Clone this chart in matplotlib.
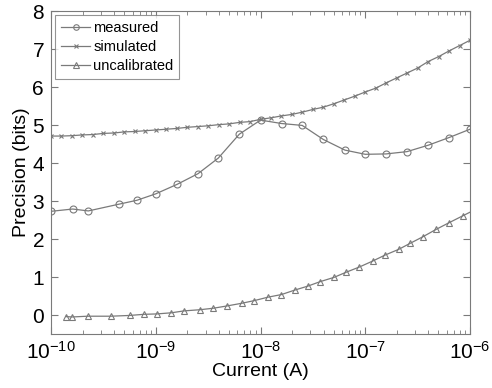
import matplotlib
matplotlib.use("Agg")
import matplotlib.pyplot as plt
import numpy as np

# measured (circles)
meas_x = [1e-10, 1.61e-10, 2.27e-10, 4.49e-10, 6.6e-10, 1e-9, 1.6e-9, 2.53e-9, 3.95e-9,
          6.28e-9, 1e-8, 1.59e-8, 2.5e-8, 3.98e-8, 6.4e-8, 1e-7, 1.58e-7, 2.5e-7, 4e-7,
          6.3e-7, 1e-6]
meas_y = [2.73, 2.79, 2.74, 2.92, 3.02, 3.19, 3.44, 3.72, 4.13,
          4.76, 5.13, 5.04, 4.99, 4.62, 4.34, 4.23, 4.24, 4.30, 4.47,
          4.67, 4.89]

# simulated (crosses), one point every 0.1 decade
sim_dec = [-10.0, -9.9, -9.8, -9.7, -9.6, -9.5, -9.4, -9.3, -9.2, -9.1,
           -9.0, -8.9, -8.8, -8.7, -8.6, -8.5, -8.4, -8.3, -8.2, -8.1,
           -8.0, -7.9, -7.8, -7.7, -7.6, -7.5, -7.4, -7.3, -7.2, -7.1,
           -7.0, -6.9, -6.8, -6.7, -6.6, -6.5, -6.4, -6.3, -6.2, -6.1, -6.0]
sim_y = [4.71, 4.71, 4.72, 4.74, 4.75, 4.78, 4.79, 4.82, 4.83, 4.85,
         4.87, 4.89, 4.91, 4.94, 4.96, 4.98, 5.01, 5.03, 5.07, 5.09,
         5.15, 5.19, 5.24, 5.28, 5.34, 5.41, 5.47, 5.56, 5.66, 5.76,
         5.87, 5.97, 6.11, 6.24, 6.37, 6.50, 6.67, 6.80, 6.95, 7.09, 7.23]

# uncalibrated (triangles)
unc_dec = [-9.86, -9.80, -9.65, -9.43, -9.25, -9.11, -8.99, -8.85, -8.73, -8.58,
           -8.45, -8.32, -8.18, -8.06, -7.93, -7.80, -7.67, -7.55, -7.43, -7.30,
           -7.18, -7.06, -6.93, -6.81, -6.68, -6.57, -6.45, -6.32, -6.20, -6.07, -5.94]
unc_y = [-0.04, -0.05, -0.03, -0.03, -0.01, 0.02, 0.03, 0.06, 0.11, 0.14,
         0.18, 0.24, 0.31, 0.38, 0.47, 0.54, 0.66, 0.76, 0.88, 0.99,
         1.13, 1.26, 1.42, 1.58, 1.73, 1.89, 2.06, 2.26, 2.43, 2.61, 2.79]

sim_x = [10.0 ** d for d in sim_dec]
unc_x = [10.0 ** d for d in unc_dec]

plt.rcParams["font.family"] = ["Liberation Sans", "DejaVu Sans"]
plt.rcParams["mathtext.fontset"] = "custom"
plt.rcParams["mathtext.rm"] = "Liberation Sans"
plt.rcParams["mathtext.it"] = "Liberation Sans"
plt.rcParams["mathtext.default"] = "regular"

grey = "#7a7a7a"
fig = plt.figure(figsize=(4.92, 3.88), dpi=100)
ax = fig.add_axes([0.1037, 0.139, 0.8516, 0.8326])

ax.plot(meas_x, meas_y, color=grey, lw=0.9, marker="o", ms=5, mfc="none", mew=0.8, label="measured")
ax.plot(sim_x, sim_y, color=grey, lw=0.9, marker="x", ms=3.5, mew=0.8, label="simulated")
ax.plot(unc_x, unc_y, color=grey, lw=0.9, marker="^", ms=5, mfc="none", mew=0.8, label="uncalibrated")

ax.set_xscale("log")
ax.set_xlim(1e-10, 1e-6)
ax.set_ylim(-0.5, 8)
ax.set_xticks([1e-10, 1e-9, 1e-8, 1e-7, 1e-6])
ax.set_xticklabels([r"$10^{-10}$", r"$10^{-9}$", r"$10^{-8}$", r"$10^{-7}$", r"$10^{-6}$"])
ax.set_yticks(range(0, 9))

ax.tick_params(which="both", direction="in", top=True, right=True, color=grey, labelsize=15, pad=5)
ax.tick_params(which="major", length=5)
ax.tick_params(which="minor", length=3)
for s in ax.spines.values():
    s.set_color(grey)

ax.set_xlabel("Current (A)", fontsize=14, labelpad=0)
ax.set_ylabel("Precision (bits)", fontsize=14, labelpad=2)

leg = ax.legend(loc="upper left", fontsize=10.5, frameon=True, fancybox=False, borderaxespad=0.3,
                handlelength=2.0, handletextpad=0.2, borderpad=0.4, labelspacing=0.35,
                markerscale=0.8)
leg.get_frame().set_edgecolor(grey)
leg.get_frame().set_linewidth(0.8)

fig.savefig("out.png", dpi=100)
